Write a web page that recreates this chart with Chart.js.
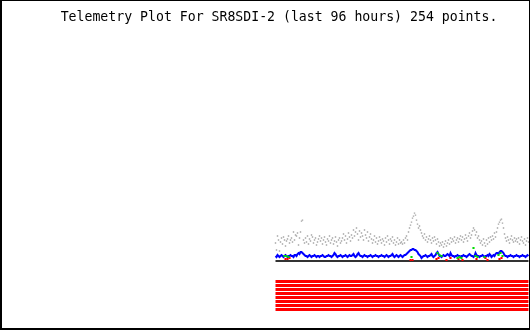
<!DOCTYPE html>
<html>
<head>
<meta charset="utf-8">
<script src="https://cdn.jsdelivr.net/npm/chart.js@4/dist/chart.umd.min.js"></script>
<style>
  body { margin: 0; background: #fff; }
  #frame {
    position: absolute; left: 0; top: 0;
    width: 530px; height: 330px; box-sizing: border-box;
    border-style: solid; border-color: #000;
    border-width: 1px 1px 2px 2px;
  }
  canvas { display: block; }
</style>
</head>
<body>
<div id="frame"><canvas id="myChart" width="527" height="327"></canvas></div>
<script>
// telemetry samples, oldest first (254 points)
var titleText = 'Telemetry Plot For SR8SDI-2 (last 96 hours) 254 points.';

var blueVals = [
  72,71,73,72,71,72,73,72,
  71,72,73,72,71,72,72,73,
  72,72,71,73,73,72,74,75,74,
  76,76,75,74,73,72,
  72,71,72,73,72,71,72,72,73,72,71,72,72,71,72,
  72,73,72,71,71,72,72,73,72,72,71,72,73,75,74,72,71,72,72,73,
  72,71,72,72,73,72,71,72,73,72,72,73,74,72,71,72,74,75,73,72,
  72,71,72,73,72,72,71,72,72,73,72,71,72,72,73,72,72,71,72,72,
  73,72,72,71,72,73,72,71,72,72,73,74,72,71,72,73,72,71,72,73,
  72,71,72,73,73,74,75,76,77,78,78,79,79,78,78,77,76,74,73,72,
  70,71,72,72,73,72,71,72,72,73,74,72,71,72,73,75,76,74,72,72,
  71,72,73,72,72,73,74,73,72,75,73,72,72,71,72,72,73,72,72,71,
  72,72,73,72,72,71,72,73,74,73,72,72,71,72,75,73,72,72,71,72,
  72,73,72,71,72,72,73,72,74,73,71,72,73,72,74,75,75,74,76,77,
  77,76,75,73,72,72,71,72,72,73,72,72,71,72,72,
  73,72,72,71,72,72,73,72,72,71,72,73,72
];

var grayVals = [
  85,78,92,88,77,86,90,84,91,88,82,87,89,92,85,88,
  90,86,96,88,93,92,95,83,90,96,107,108,88,85,90,
  86,92,84,89,87,93,91,85,88,90,83,86,89,92,87,
  90,84,88,91,86,83,89,87,92,85,88,90,84,87,91,86,82,88,90,85,
  87,90,94,88,92,85,89,95,91,87,93,90,98,92,96,100,94,88,97,91,
  95,92,88,98,93,90,96,87,91,94,89,85,88,92,86,90,84,87,91,88,
  85,89,87,83,90,86,92,88,84,89,87,91,85,88,83,86,90,84,88,85,
  86,84,88,85,90,92,88,96,100,103,106,110,112,115,113,108,104,100,102,98,
  95,92,90,94,88,91,86,89,92,88,85,90,87,91,88,84,89,86,82,85,
  83,86,81,84,87,82,85,88,84,90,86,89,87,91,85,88,90,86,89,92,
  88,91,86,89,93,90,87,92,95,90,93,97,100,98,93,96,90,92,88,85,
  87,83,89,85,82,88,84,90,86,91,88,92,89,95,91,96,100,104,106,108,
  109,105,100,94,90,87,91,88,85,89,92,88,86,90,87,
  89,86,90,84,88,91,87,85,89,83,87,90,86
];

var greenIdx = [9,11,13,136,162,164,166,182,184,186,198,200,202,209,223,225,227];
var greenVals = [72,72,71,71,75,73,72,70,71,70,80,72,71,71,73,75,72];
var redIdx = [10,12,14,135,137,161,163,171,175,183,187,201,210,212,224,226];
var redVals = [69,69,70,68,68,69,70,68,70,69,68,69,70,68,69,70];

var baseLevel = 67;
var channelLevels = [46.5, 42.5, 38.5, 34.5, 30.5, 26.5, 22.5, 18.5];

function series(vals) {
  return vals.map(function (v, i) { return { x: i, y: v }; });
}
function sparse(idx, vals) {
  return idx.map(function (x, i) { return { x: x, y: vals[i] }; });
}
var lastIdx = blueVals.length - 1;

var datasets = [
  { label: 'green', data: sparse(greenIdx, greenVals), showLine: false,
    pointStyle: 'rect', pointRadius: 1.5, backgroundColor: '#00dd00', borderWidth: 0, order: 0 },
  { label: 'red', data: sparse(redIdx, redVals), showLine: false,
    pointStyle: 'rect', pointRadius: 1.5, backgroundColor: '#ff0000', borderWidth: 0, order: 0 },
  { label: 'blue', data: series(blueVals), borderColor: '#0000ff', borderWidth: 2,
    pointRadius: 0, tension: 0, order: 1 },
  { label: 'base', data: [{ x: 0, y: baseLevel }, { x: lastIdx, y: baseLevel }],
    borderColor: '#333333', borderWidth: 2, pointRadius: 0, order: 2 },
  { label: 'gray', data: series(grayVals), showLine: false,
    pointStyle: 'rect', pointRadius: 1, backgroundColor: '#a4a4a4', borderWidth: 0, order: 3 }
];
channelLevels.forEach(function (lv, k) {
  datasets.push({ label: 'ch' + (k + 1), data: [{ x: 0, y: lv }, { x: lastIdx, y: lv }],
    borderColor: '#ff0000', borderWidth: 3, pointRadius: 0, order: 4 });
});

var ctx = document.getElementById('myChart').getContext('2d');
var myChart = new Chart(ctx, {
  type: 'line',
  data: { datasets: datasets },
  options: {
    responsive: false,
    animation: false,
    events: [],
    layout: { autoPadding: false, padding: { left: 27, right: 0, top: 0, bottom: 0 } },
    scales: {
      x: { type: 'linear', min: -246.5, max: 253.5, display: false },
      y: { type: 'linear', min: 0, max: 300, display: false }
    },
    plugins: {
      legend: { display: false },
      tooltip: { enabled: false },
      title: {
        display: true,
        text: titleText,
        color: '#000',
        font: { family: 'DejaVu Sans Mono', size: 13.2, weight: 'normal' },
        padding: { top: 9, bottom: 2.4 }
      }
    }
  }
});
</script>
</body>
</html>
